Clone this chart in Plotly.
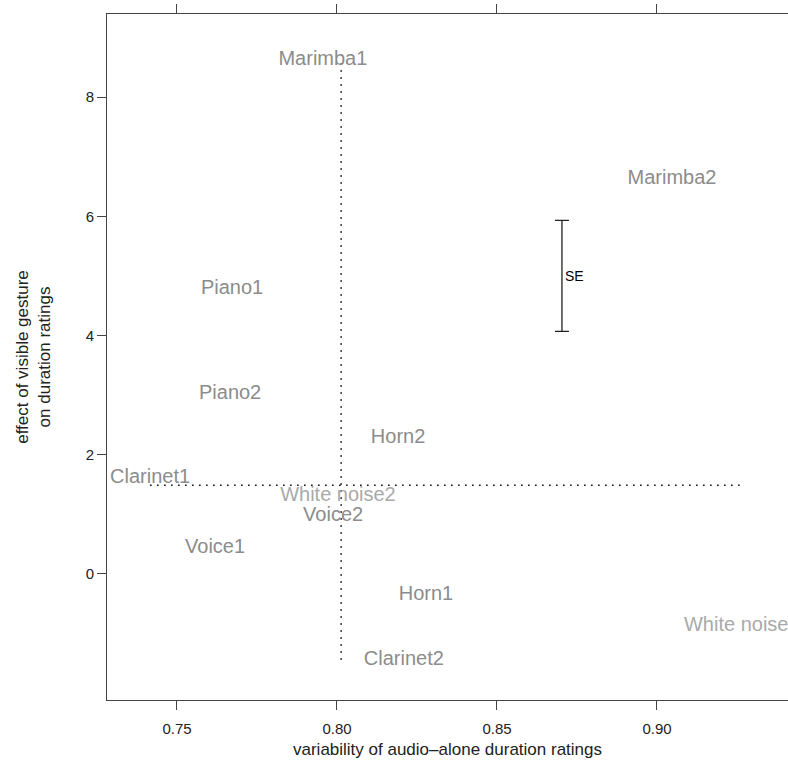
import plotly.graph_objects as go

# data
names = ["Marimba1", "Marimba2", "Piano1", "Piano2", "Horn2", "Clarinet1",
         "White noise2", "Voice2", "Voice1", "Horn1", "Clarinet2", "White noise1"]
variability = [0.7956, 0.9047, 0.7672, 0.7666, 0.8191, 0.7416,
               0.8003, 0.7988, 0.7619, 0.8278, 0.8209, 0.9265]
effect = [8.62, 6.63, 4.78, 3.02, 2.28, 1.61,
          1.31, 0.97, 0.43, -0.36, -1.45, -0.88]
ref_x = 0.8013   # vertical dotted reference line
ref_y = 1.49     # horizontal dotted reference line
se_x = 0.8703
se_center = 5.0
se_half = 0.93

x_ticks = [0.75, 0.80, 0.85, 0.90]
x_tick_labels = ["0.75", "0.80", "0.85", "0.90"]
y_ticks = [0, 2, 4, 6, 8]

FONT = "Liberation Sans, Arial, Helvetica, sans-serif"
label_colors = ["#a9a9a9" if n.startswith("White") else "#8c8c8c" for n in names]

fig = go.Figure()

dot = dict(color="black", width=1.5, dash="1.5px,5.5px")
fig.add_trace(go.Scatter(x=[ref_x, ref_x], y=[min(effect) + 0.01, max(effect) + 0.02],
                         mode="lines", line=dot, hoverinfo="skip", showlegend=False))
fig.add_trace(go.Scatter(x=[min(variability), max(variability)], y=[ref_y, ref_y],
                         mode="lines", line=dot, hoverinfo="skip", showlegend=False))

fig.add_trace(go.Scatter(x=variability, y=effect, mode="text", text=names,
                         textposition="middle center",
                         textfont=dict(family=FONT, size=20, color=label_colors),
                         showlegend=False, cliponaxis=False, hoverinfo="skip"))

# SE bar
fig.add_trace(go.Scatter(x=[se_x], y=[se_center], mode="markers",
                         marker=dict(size=0.1, color="rgba(0,0,0,0)"),
                         error_y=dict(type="constant", value=se_half, color="#222",
                                      thickness=1.3, width=7),
                         showlegend=False, hoverinfo="skip"))
fig.add_annotation(x=se_x, y=se_center, text="SE", showarrow=False,
                   xanchor="left", yanchor="middle", xshift=1,
                   font=dict(family=FONT, size=14, color="black"))

axis_font = dict(family=FONT, size=15, color="#222")
title_font = dict(family=FONT, size=17, color="#222")

fig.update_layout(
    width=788, height=772,
    margin=dict(l=107, r=0, t=14, b=72),
    plot_bgcolor="white", paper_bgcolor="white",
    xaxis=dict(range=[0.72813, 0.94094], tickvals=x_ticks, ticktext=x_tick_labels,
               showgrid=False, zeroline=False, showline=True, linecolor="#444",
               linewidth=1, mirror="ticks", ticks="outside", ticklen=9,
               tickcolor="#444", tickfont=axis_font, ticklabelstandoff=6,
               title=dict(text="variability of audio\u2013alone duration ratings",
                          font=title_font, standoff=7)),
    yaxis=dict(range=[-2.114, 9.393], tickvals=y_ticks,
               showgrid=False, zeroline=False, showline=True, linecolor="#444",
               linewidth=1, mirror=False, ticks="outside", ticklen=9,
               tickcolor="#444", tickfont=axis_font,
               title=dict(text="effect of visible gesture<br>on duration ratings",
                          font=title_font, standoff=30)),
)

fig.write_html("out.html")
